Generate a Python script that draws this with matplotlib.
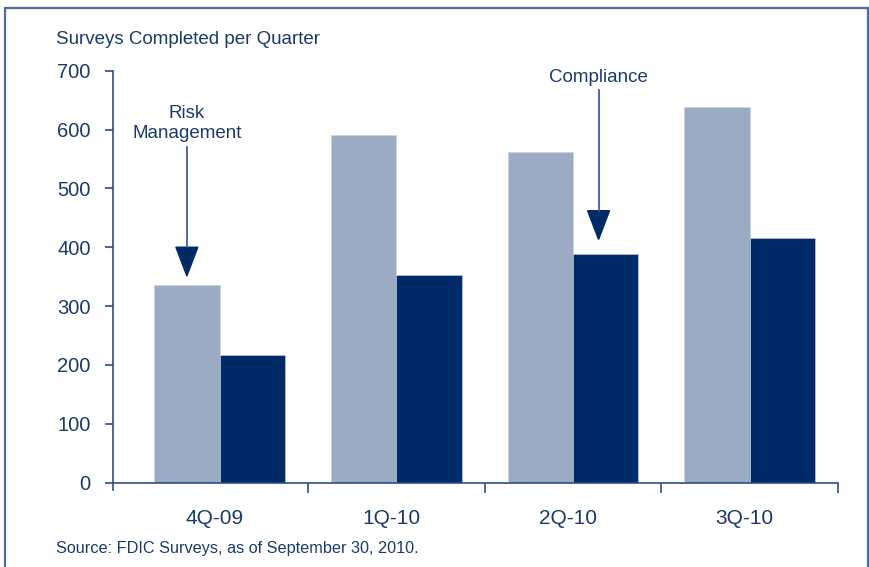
import numpy as np
import matplotlib.pyplot as plt
from matplotlib.patches import Rectangle, Polygon

# data
quarters = ['4Q-09', '1Q-10', '2Q-10', '3Q-10']
risk_mgmt = [336, 590, 562, 638]
compliance = [217, 353, 388, 416]
yticks = [0, 100, 200, 300, 400, 500, 600, 700]

light = '#9BABC4'
dark = '#002B66'
txt = '#1B3A6B'
axcol = '#2E4E80'

plain = ['Liberation Sans', 'DejaVu Sans']

fig = plt.figure(figsize=(8.7, 5.67), dpi=100)
ax = fig.add_axes([113 / 870, 84.5 / 567, (838 - 113) / 870, (482.5 - 70.7) / 567])

x = np.arange(len(quarters))
w = 0.37
ax.bar(x - w / 2, risk_mgmt, w, color=light, edgecolor='#C8D2E2', linewidth=0.4)
ax.bar(x + w / 2, compliance, w, color=dark, edgecolor='#C8D2E2', linewidth=0.4)

ax.set_xlim(-0.603, 3.5)
ax.set_ylim(0, 700)

for s in ['top', 'right']:
    ax.spines[s].set_visible(False)
for s in ['left', 'bottom']:
    ax.spines[s].set_color(axcol)
    ax.spines[s].set_linewidth(1.2)

ax.set_yticks(yticks)
ax.set_yticklabels([str(v) for v in yticks], family=plain, fontsize=14.5, color=txt)
ax.tick_params(axis='y', length=6, width=1.2, color=axcol, pad=10)

# category separators as minor ticks, labels on major
ax.set_xticks(x - 0.03)
ax.set_xticklabels(quarters, family=plain, fontsize=15, color=txt)
ax.set_xticks(list(x[1:] - 0.5) + [3.5], minor=True)
ax.tick_params(axis='x', which='major', length=0, pad=19)
ax.tick_params(axis='x', which='minor', length=7, width=1.2, color=axcol, direction='out')
# y axis stub below zero
ax.plot([-0.603, -0.603], [0, -12], color=axcol, lw=1.2, clip_on=False)

fig.text(56 / 870, 1 - 40 / 567, 'Surveys Completed per Quarter', family=plain,
         fontsize=13.5, color=txt, va='center', ha='left')
fig.text(56 / 870, 1 - 548 / 567, 'Source: FDIC Surveys, as of September 30, 2010.',
         family=plain, fontsize=11.7, color=txt, va='center', ha='left')


def arrow(xc, top, tip, label, label_y):
    tri_h = 49
    hw = 0.062
    ax.plot([xc, xc], [top, tip + tri_h], color='#3B4C9A', lw=1.2, clip_on=False)
    ax.add_patch(Polygon([[xc - hw, tip + tri_h], [xc + hw, tip + tri_h], [xc, tip]],
                         closed=True, color=dark, clip_on=False))
    ax.text(xc, label_y, label, family=plain, fontsize=13.5, color=txt,
            ha='center', va='bottom', linespacing=1.25, clip_on=False)


arrow(0 - w / 2, 571, risk_mgmt[0] + 15, 'Risk\nManagement', 578)
arrow(2 + w / 2 - 0.04, 667, compliance[2] + 25, 'Compliance', 674)

# outer frame
fig.patches.append(Rectangle((5.5 / 870, -0.05), (868 - 5.5) / 870, 1.05 - 8 / 567,
                             transform=fig.transFigure, fill=False,
                             edgecolor='#4C6C9C', linewidth=1.6))

fig.savefig('out.png', dpi=100)
